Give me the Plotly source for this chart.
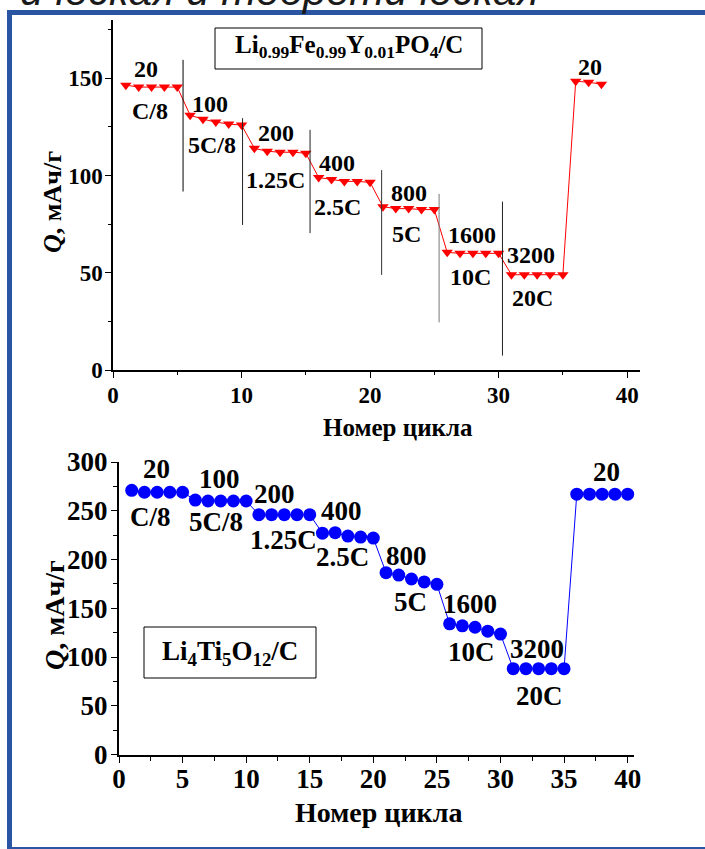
import plotly.graph_objects as go

# ---------------- data ----------------
cycles_lfp = list(range(1, 39))
q_lfp = [146.5, 145.5, 145.5, 145.5, 145.5,
         131, 129, 127.5, 126.5, 126,
         114, 112.5, 112, 112, 111.5,
         99, 98, 97, 97, 96.5,
         84, 83, 83, 82.5, 82.5,
         60.5, 60, 60, 60, 60,
         49, 49, 49, 49, 49,
         148.5, 148, 147]

cycles_lto = list(range(1, 41))
q_lto = [271, 269, 269, 269, 269,
         261, 260, 260, 260, 260,
         246, 246, 246, 246, 246,
         227, 227.5, 224, 223, 222,
         186.5, 184, 180, 177, 174.5,
         134, 132, 130.5, 126.5, 123.5,
         88, 88, 88, 88, 88,
         267, 267, 267, 267, 267]

# tick values
xt_top = [0, 10, 20, 30, 40]
yt_top = [0, 50, 100, 150]
xt_bot = [0, 5, 10, 15, 20, 25, 30, 35, 40]
yt_bot = [0, 50, 100, 150, 200, 250, 300]

# separator lines in upper panel (cycle, Q from, Q to)
sep_x = [5.45, 10.08, 15.33, 20.9, 25.37, 30.3]
sep_y0 = [91.8, 74.6, 70.4, 48.9, 24.5, 7.4]
sep_y1 = [159.5, 129.5, 123.5, 102.8, 90.6, 86.6]

# rate labels (current density / C-rate)
lab_top_text = ["20", "C/8", "100", "5C/8", "200", "1.25C", "400", "2.5C",
                "800", "5C", "1600", "10C", "3200", "20C", "20"]
lab_top_x = [2.55, 2.9, 7.55, 7.67, 12.7, 12.65, 17.4, 17.5, 23.0, 22.8, 27.9, 27.85, 32.5, 32.6, 37.1]
lab_top_y = [155, 133, 137, 115.8, 122, 97.8, 106.5, 84, 91, 70, 69.5, 47.6, 59.2, 37, 156]

lab_bot_text = ["20", "C/8", "100", "5C/8", "200", "1.25C", "400", "2.5C",
                "800", "5C", "1600", "10C", "3200", "20C", "20"]
lab_bot_x = [2.96, 2.5, 7.94, 7.6, 12.2, 12.9, 17.5, 17.6, 22.6, 22.9, 27.6, 27.75, 32.9, 33.1, 38.3]
lab_bot_y = [292.8, 244, 283, 238.5, 267, 220, 250, 202.5, 203.6, 156, 154.4, 105.4, 108, 60, 289.7]

title_top = "Li<sub>0.99</sub>Fe<sub>0.99</sub>Y<sub>0.01</sub>PO<sub>4</sub>/C"
title_bot = "Li<sub>4</sub>Ti<sub>5</sub>O<sub>12</sub>/C"
x_title = "Номер цикла"
y_title = "<i>Q</i>, мАч/г"
slide_text = "ическая и теоретическая"

# ---------------- figure ----------------
W, H = 705, 849
SERIF = "Liberation Serif"
FRAME = "#2a55a2"


def px(x):
    return x / W


def py(y):
    return 1 - y / H


def bold(vals):
    return [f"<b>{v}</b>" for v in vals]


fig = go.Figure()
fig.add_trace(go.Scatter(
    x=cycles_lfp, y=q_lfp, mode="lines+markers",
    marker=dict(symbol="triangle-down", size=10, color="#ff0000"),
    line=dict(color="#ff0000", width=1),
    xaxis="x", yaxis="y", cliponaxis=False, showlegend=False))
fig.add_trace(go.Scatter(
    x=cycles_lto, y=q_lto, mode="lines+markers",
    marker=dict(symbol="circle", size=13, color="#0000ff"),
    line=dict(color="#0000ff", width=1),
    xaxis="x2", yaxis="y2", cliponaxis=False, showlegend=False))

tickfont_top = dict(family=SERIF, size=23, color="black")
tickfont_bot = dict(family=SERIF, size=27, color="black")

common = dict(showgrid=False, zeroline=False, showline=True, linecolor="black",
              ticks="outside", tickcolor="black", tickmode="array",
              automargin=False)

fig.update_layout(
    template="none",
    width=W, height=H, margin=dict(l=0, r=0, t=0, b=0, pad=0, autoexpand=False),
    font=dict(family=SERIF, color="black"),
    paper_bgcolor="white", plot_bgcolor="white", showlegend=False,
    xaxis=dict(domain=[px(113), px(640)], anchor="y", range=[0, 41],
               tickvals=xt_top, ticktext=bold(xt_top),
               ticklen=6, tickwidth=1, linewidth=1.5, tickfont=tickfont_top,
               ticklabelstandoff=-2,
               minor=dict(dtick=5, tick0=0, ticklen=3, ticks="outside", tickcolor="black"),
               **common),
    yaxis=dict(domain=[py(370), py(20)], anchor="x", range=[0, 180],
               tickvals=yt_top, ticktext=bold(yt_top),
               ticklen=6, tickwidth=1, linewidth=1.5, tickfont=tickfont_top,
               ticklabelstandoff=-2,
               minor=dict(dtick=25, tick0=0, ticklen=3, ticks="outside", tickcolor="black"),
               **common),
    xaxis2=dict(domain=[px(119), px(634)], anchor="y2", range=[0, 40.5],
                tickvals=xt_bot, ticktext=bold(xt_bot),
                ticklen=6, tickwidth=1, linewidth=2, tickfont=tickfont_bot,
                ticklabelstandoff=-7,
                minor=dict(dtick=2.5, tick0=0, ticklen=4, ticks="outside", tickcolor="black"),
                **common),
    yaxis2=dict(domain=[py(754.5), py(462)], anchor="x2", range=[0, 300],
                tickvals=yt_bot, ticktext=bold(yt_bot),
                ticklen=6, tickwidth=1, linewidth=2, tickfont=tickfont_bot,
                ticklabelstandoff=-2,
                minor=dict(dtick=25, tick0=0, ticklen=4, ticks="outside", tickcolor="black"),
                **common),
)

shapes = []
# separators in upper panel
sep_colors = ["black", "#222", "#222", "#333", "#777", "#222"]
for xv, a, b, c in zip(sep_x, sep_y0, sep_y1, sep_colors):
    shapes.append(dict(type="line", xref="x", yref="y", x0=xv, x1=xv, y0=a, y1=b,
                       line=dict(color=c, width=1)))
# formula boxes
shapes.append(dict(type="rect", xref="paper", yref="paper",
                   x0=px(215), x1=px(482), y0=py(69), y1=py(28),
                   line=dict(color="black", width=1), fillcolor="white", layer="below"))
shapes.append(dict(type="rect", xref="paper", yref="paper",
                   x0=px(144), x1=px(316), y0=py(678), y1=py(627),
                   line=dict(color="black", width=1), fillcolor="white", layer="below"))
# slide frame
shapes.append(dict(type="rect", xref="paper", yref="paper",
                   x0=px(7), x1=px(12), y0=0, y1=py(10),
                   line=dict(width=0), fillcolor=FRAME))
shapes.append(dict(type="rect", xref="paper", yref="paper",
                   x0=px(7), x1=1, y0=py(15), y1=py(10),
                   line=dict(width=0), fillcolor=FRAME))
shapes.append(dict(type="rect", xref="paper", yref="paper",
                   x0=px(7), x1=1, y0=0, y1=py(847),
                   line=dict(width=0), fillcolor=FRAME))
fig.update_layout(shapes=shapes)

ann = []
for t, xv, yv in zip(lab_top_text, lab_top_x, lab_top_y):
    ann.append(dict(text=f"<b>{t}</b>", x=xv, y=yv, xref="x", yref="y", showarrow=False,
                    xanchor="center", yanchor="middle",
                    font=dict(family=SERIF, size=24, color="black")))
for t, xv, yv in zip(lab_bot_text, lab_bot_x, lab_bot_y):
    ann.append(dict(text=f"<b>{t}</b>", x=xv, y=yv, xref="x2", yref="y2", showarrow=False,
                    xanchor="center", yanchor="middle",
                    font=dict(family=SERIF, size=27, color="black")))


def paper_text(text, x, y, size, angle=0, family=SERIF, xanchor="center", **kw):
    return dict(text=text, x=px(x), y=py(y), xref="paper", yref="paper",
                xanchor=xanchor, yanchor="middle", textangle=angle, showarrow=False,
                font=dict(family=family, size=size, color=kw.pop("color", "black"), **kw))


# formula texts
ann.append(paper_text(f"<b>{title_top}</b>", 348.5, 47, 25))
ann.append(paper_text(f"<b>{title_bot}</b>", 230, 653, 27))
# axis titles
ann.append(paper_text(f"<b>{x_title}</b>", 398, 427, 25))
ann.append(paper_text(f"<b>{x_title}</b>", 378, 812, 28))
ann.append(paper_text(f"<b>{y_title}</b>", 52, 202, 26, angle=-90))
ann.append(paper_text(f"<b>{y_title}</b>", 54, 615, 28, angle=-90))
# cut-off slide heading
ann.append(paper_text(slide_text, 18, -9, 42, family="Liberation Sans",
                      xanchor="left", color="#1a1a1a", style="italic"))
fig.update_layout(annotations=ann)

fig.write_html("out.html")
